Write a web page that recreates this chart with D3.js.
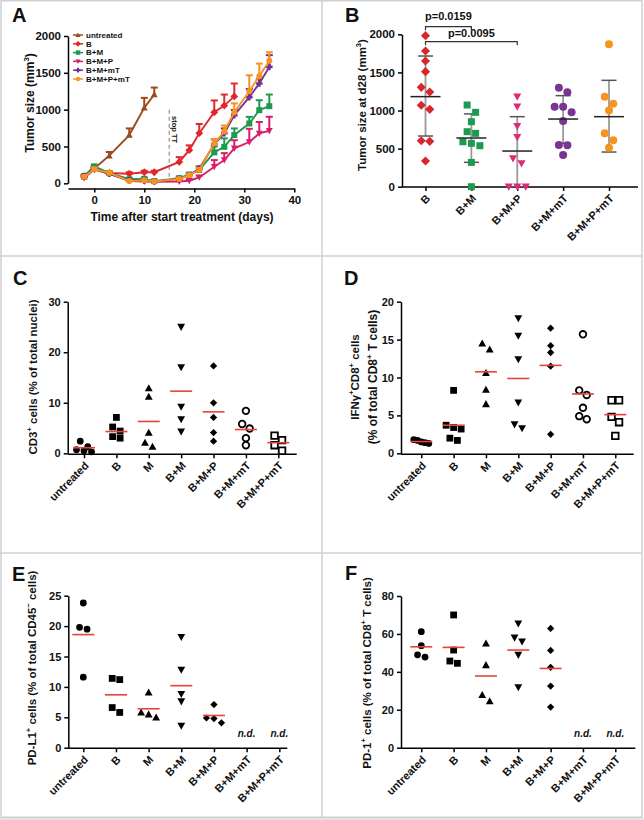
<!DOCTYPE html>
<html><head><meta charset="utf-8">
<script src="https://cdn.jsdelivr.net/npm/d3@7"></script>
<style>
body{margin:0;background:#fff}
svg{display:block}
text{font-family:"Liberation Sans",Arial,sans-serif;font-weight:bold;fill:#111;white-space:pre}
</style>
</head><body><script>
// ================= DATA =================
// Panel A: tumor growth (mean + SEM)
const growthDays = [-2,0,3,7,10,12,17,19,21,24,26,28,31,33,35];
const growthSeries = ["untreated","B","B+M","B+M+P","B+M+mT","B+M+P+mT"];
const untreatedMean = [90,200,375,655,1025,1205];
const untreatedSem  = [15,20,50,90,135,95];
const bMean   = [85,195,140,130,150,150,290,450,680,965,1055,1180];
const bSem    = [15,20,20,20,20,20,65,65,125,160,150,175];
const bmMean  = [100,230,140,55,60,30,70,120,180,420,495,655,812,993,1047];
const bmSem   = [15,20,20,15,15,10,15,20,30,80,115,90,90,135,158];
const bmpMean = [75,190,130,30,25,20,25,35,80,225,315,475,560,677,713];
const bmpSem  = [15,20,20,10,10,10,10,15,25,90,95,110,180,155,190];
const bmmtMean  = [100,195,130,40,40,25,60,110,200,530,680,925,1170,1355,1580];
const bmmtSem   = [15,20,20,10,10,10,15,20,30,66,65,70,110,60,160];
const bmpmtMean = [90,195,140,30,40,25,60,110,180,540,705,965,1250,1455,1665];
const bmpmtSem  = [15,20,20,10,10,10,15,20,30,60,80,120,217,170,115];
const stopDay = 15;

// Panel B: tumor size at d28
const tumorGroups = ["B","B+M","B+M+P","B+M+mT","B+M+P+mT"];
const tumorB      = [1982,1781,1650,1510,1304,1243,1068,1015,604,595,337];
const tumorBM     = [1072,976,853,722,700,590,569,538,319,0];
const tumorBMP    = [1180,1050,795,648,372,306,0,0,0];
const tumorBMmT   = [1300,1238,1050,1050,976,862,547,543,416];
const tumorBMPmT  = [1870,1180,1090,1000,700,610,510];
const tumorMean   = [1182,639,468,888,919];
const tumorSdLow  = [665,320,0,569,455];
const tumorSdHigh = [1715,955,919,1195,1396];
const tumorPvals  = ["p=0.0159","p=0.0095"];

// Panels C-F
const immuneGroups = ["untreated","B","M","B+M","B+M+P","B+M+mT","B+M+P+mT"];
const cd3Values = [[2.4,1.3,0.7,0.5,0.3],[7.1,5.2,4.4,3.3,3.0],[12.9,11.2,4.1,2.1,1.3],[25,17,9.2,6.7,4.3],[17.3,10,7.1,4.1,2.4],[8.4,5.8,4.9,3.0,1.6],[3.5,2.6,1.6,0.5]];
const cd3Means  = [1.1,4.3,6.3,12.3,8.2,4.7,2.1];
const ifnValues = [[1.8,1.7,1.5,1.4,1.3],[8.3,3.7,3.4,3.2,2.0,1.7],[14.5,13.7,10.6,8.4,6.5],[17.8,15.5,12.4,6.7,3.8,3.3],[16.5,14.2,13.3,11.5,2.5],[15.7,8.3,7.7,6.0,4.9,4.5],[7.0,7.0,4.8,4.1,2.3]];
const ifnMeans  = [1.55,3.7,10.75,9.87,11.6,7.83,5.1];
const pdl1Values = [[23.8,19.8,19.5,11.6],[11.4,11.2,6.6,5.8],[9.1,5.8,5.5,5.0],[18.2,12.8,8.8,7.6,3.6],[7.1,4.9,4.8,4.1],[],[]];
const pdl1Means  = [18.6,8.7,6.4,10.2,5.3,null,null];
const pd1Values = [[61.2,53.8,49.0,47.8],[70,51.5,45.7,44.5],[55,43.6,27.8,24.6],[65.4,58,55.9,48.9,31.8],[62.9,51.3,42.4,32.5,21.4],[],[]];
const pd1Means  = [53.2,52.9,37.8,51.5,41.8,null,null];

// ================= STYLE =================
const growthColors = ["#9b4a1e","#e0282c","#1b9a50","#d91e6b","#72319a","#f7941e"];
const growthShapes = ["up","diamond","square","down","cross","circle"];
const tumorColors = ["#d9262c","#1b9a50","#e0287b","#7a3592","#f7941d"];
const tumorShapes = ["diamond","square","down","circle","circle"];
const immuneShapes = ["circle","square","up","down","diamond","ocircle","osquare"];
const meanRed = "#e8413e";
const intFmt = d3.format("d");

// ================= HELPERS =================
function shapePath(type, r) {
  switch (type) {
    case "circle": case "ocircle":
      return `M${r},0A${r},${r} 0 1,1 ${-r},0A${r},${r} 0 1,1 ${r},0Z`;
    case "square": case "osquare":
      return `M${-r},${-r}H${r}V${r}H${-r}Z`;
    case "up": { const h = r*1.15; return `M0,${-h}L${h},${h*0.8}L${-h},${h*0.8}Z`; }
    case "down": { const h = r*1.15; return `M0,${h}L${h},${-h*0.8}L${-h},${-h*0.8}Z`; }
    case "diamond": { const d = r*1.3; return `M0,${-d}L${d},0L0,${d}L${-d},0Z`; }
    case "cross": { const a = r*0.45, b = r*1.1; return `M${-a},${-b}H${a}V${-a}H${b}V${a}H${a}V${b}H${-a}V${a}H${-b}V${-a}H${-a}Z`; }
  }
}
function richText(t, parts, size) {
  let shift = 0;
  parts.forEach(p => {
    const sup = typeof p === "object";
    const target = sup ? -size*0.4 : 0;
    const ts = t.append("tspan").text(sup ? p.sup : p);
    if (target !== shift) { ts.attr("dy", target - shift); shift = target; }
    if (sup) ts.attr("font-size", size*0.65);
  });
  return t;
}
function yTitle(g, x, yc, parts, size) {
  const t = g.append("text").attr("transform", `translate(${x},${yc}) rotate(-90)`)
    .attr("text-anchor","middle").attr("font-size", size);
  return richText(t, parts, size);
}
function styleAxis(sel, fs) {
  sel.select(".domain").attr("stroke","#000").attr("stroke-width",1.5);
  sel.selectAll(".tick line").attr("stroke","#000").attr("stroke-width",1.5);
  sel.selectAll(".tick text").attr("fill","#111").attr("font-size",fs)
     .attr("font-family","'Liberation Sans',Arial,sans-serif").attr("font-weight","bold");
}
function swarmOffsets(values, y, size) {
  const idx = values.map((v,i)=>i).sort((a,b)=>values[b]-values[a]);
  const off = new Array(values.length).fill(0);
  let i = 0;
  while (i < idx.length) {
    let j = i + 1;
    while (j < idx.length && Math.abs(y(values[idx[i]]) - y(values[idx[j]])) < size*0.9) j++;
    const n = j - i;
    const step = n > 1 ? Math.min(size, 2*size/(n-1)) : 0;
    for (let k = 0; k < n; k++) off[idx[i+k]] = (k - (n-1)/2) * step;
    i = j;
  }
  return off;
}
function catLabels(axisSel) {
  axisSel.selectAll(".tick text")
    .attr("text-anchor","end").attr("x",-5).attr("y",12).attr("dy",0)
    .attr("transform","rotate(-45)");
}

// ================= SVG =================
const svg = d3.select("body").append("svg").attr("width",644).attr("height",820);
svg.append("rect").attr("width",644).attr("height",820).attr("fill","#fff");
svg.append("rect").attr("x",0).attr("y",818).attr("width",644).attr("height",2).attr("fill","#e4e4e4");
const frame = svg.append("g").attr("fill","none").attr("stroke","#d0d0d0").attr("stroke-width",1.5);
frame.append("rect").attr("x",1).attr("y",0.75).attr("width",641).attr("height",816.5);
frame.append("line").attr("x1",322).attr("x2",322).attr("y1",0).attr("y2",817);
frame.append("line").attr("x1",0).attr("x2",642).attr("y1",256).attr("y2",256);
frame.append("line").attr("x1",0).attr("x2",642).attr("y1",553).attr("y2",553);

const letters = [["A",12,22],["B",345,22],["C",13,285],["D",344,285],["E",12,581],["F",345,580]];
svg.selectAll("text.letter").data(letters).join("text").attr("class","letter")
  .attr("x",d=>d[1]).attr("y",d=>d[2]).attr("font-size",20).text(d=>d[0]);

// ================= PANEL A =================
(function(){
  const g = svg.append("g");
  const x = d3.scaleLinear().domain([-5.25,40]).range([68,294.3]);
  const y = d3.scaleLinear().domain([0,2000]).range([183.3,36]);
  const ya = g.append("g").attr("transform","translate(68,0)")
    .call(d3.axisLeft(y).tickValues([0,500,1000,1500,2000]).tickFormat(intFmt).tickSize(4).tickSizeOuter(0).tickPadding(3));
  styleAxis(ya, 11.5);
  const xa = g.append("g").attr("transform","translate(0,188.5)")
    .call(d3.axisBottom(x).tickValues([0,10,20,30,40]).tickFormat(intFmt).tickSize(4).tickSizeOuter(0).tickPadding(3));
  styleAxis(xa, 11.5);
  yTitle(g, 34, 103, ["Tumor size (mm", {sup:"3"}, ")"], 12);
  g.append("text").attr("x",182).attr("y",221).attr("text-anchor","middle").attr("font-size",12)
    .text("Time after start treatment (days)");

  // stop TT
  g.append("line").attr("x1",x(stopDay)).attr("x2",x(stopDay)).attr("y1",y(1000)).attr("y2",y(45))
    .attr("stroke","#a8a8a8").attr("stroke-width",1.5).attr("stroke-dasharray","4,3");
  g.append("text").attr("transform",`translate(${x(stopDay)+2.5},${y(730)}) rotate(90)`)
    .attr("text-anchor","middle").attr("font-size",7.5).text("stop TT");

  const means = [untreatedMean,bMean,bmMean,bmpMean,bmmtMean,bmpmtMean];
  const sems  = [untreatedSem,bSem,bmSem,bmpSem,bmmtSem,bmpmtSem];
  const line = d3.line().x(d=>x(d.t)).y(d=>y(d.m));
  growthSeries.forEach((name, si) => {
    const pts = means[si].map((m,i)=>({t:growthDays[i], m, s:sems[si][i]}));
    const c = growthColors[si];
    const sg = g.append("g");
    sg.selectAll("line.eb").data(pts).join("line").attr("class","eb")
      .attr("x1",d=>x(d.t)).attr("x2",d=>x(d.t)).attr("y1",d=>y(d.m)).attr("y2",d=>y(d.m+d.s))
      .attr("stroke",c).attr("stroke-width",2);
    sg.selectAll("line.cap").data(pts).join("line").attr("class","cap")
      .attr("x1",d=>x(d.t)-3.5).attr("x2",d=>x(d.t)+3.5).attr("y1",d=>y(d.m+d.s)).attr("y2",d=>y(d.m+d.s))
      .attr("stroke",c).attr("stroke-width",2);
    sg.append("path").datum(pts).attr("d",line).attr("fill","none").attr("stroke",c).attr("stroke-width",1.9);
    sg.selectAll("path.mk").data(pts).join("path").attr("class","mk")
      .attr("d",shapePath(growthShapes[si],3))
      .attr("transform",d=>`translate(${x(d.t)},${y(d.m)})`).attr("fill",c);
  });
  // legend
  const lg = g.append("g");
  growthSeries.forEach((name, si) => {
    const ly = 35 + si*8.8;
    lg.append("line").attr("x1",73).attr("x2",83).attr("y1",ly).attr("y2",ly)
      .attr("stroke",growthColors[si]).attr("stroke-width",1.5);
    lg.append("path").attr("d",shapePath(growthShapes[si],2.2)).attr("transform",`translate(78,${ly})`)
      .attr("fill",growthColors[si]);
    lg.append("text").attr("x",86).attr("y",ly).attr("dy","0.35em").attr("font-size",8).text(name);
  });
})();

// ================= PANEL B =================
(function(){
  const g = svg.append("g");
  const x = d3.scalePoint().domain(tumorGroups).range([425.5,609]);
  const y = d3.scaleLinear().domain([0,2000]).range([186.7,34.3]);
  const ya = g.append("g").attr("transform","translate(402,0)")
    .call(d3.axisLeft(y).tickValues([0,500,1000,1500,2000]).tickFormat(intFmt).tickSize(4).tickSizeOuter(0).tickPadding(3));
  styleAxis(ya, 11.5);
  g.append("line").attr("x1",402).attr("x2",638).attr("y1",187).attr("y2",187).attr("stroke","#000").attr("stroke-width",1.5);
  const xa = g.append("g").attr("transform","translate(0,187)").call(d3.axisBottom(x).tickSize(4).tickSizeOuter(0));
  xa.select(".domain").remove();
  styleAxis(xa, 11);
  catLabels(xa);
  yTitle(g, 366, 105, ["Tumor size at d28 (mm", {sup:"3"}, ")"], 11.5);

  const groupsData = [tumorB,tumorBM,tumorBMP,tumorBMmT,tumorBMPmT];
  groupsData.forEach((vals, gi) => {
    const cx = x(tumorGroups[gi]);
    g.append("line").attr("x1",cx).attr("x2",cx).attr("y1",y(tumorSdLow[gi])).attr("y2",y(tumorSdHigh[gi]))
      .attr("stroke","#9a9a9a").attr("stroke-width",1.8);
    [tumorSdLow[gi], tumorSdHigh[gi]].forEach(v => {
      g.append("line").attr("x1",cx-7.5).attr("x2",cx+7.5).attr("y1",y(v)).attr("y2",y(v))
        .attr("stroke","#555").attr("stroke-width",1.5);
    });
    const offs = swarmOffsets(vals, y, 8.5);
    g.selectAll(null).data(vals).join("path")
      .attr("d", shapePath(tumorShapes[gi], tumorShapes[gi]==="circle"?4:3.5))
      .attr("transform",(v,i)=>`translate(${cx+offs[i]},${y(v)})`)
      .attr("fill",tumorColors[gi]);
    g.append("line").attr("x1",cx-15).attr("x2",cx+15).attr("y1",y(tumorMean[gi])).attr("y2",y(tumorMean[gi]))
      .attr("stroke","#222").attr("stroke-width",1.5);
  });
  const br = [[tumorGroups[0],tumorGroups[1],26.7,19.5],[tumorGroups[0],tumorGroups[2],41.7,36.5]];
  br.forEach((b, i) => {
    const x1 = x(b[0]), x2 = x(b[1]);
    g.append("path").attr("d",`M${x1},${b[2]+3.5}V${b[2]}H${x2}V${b[2]+3.5}`)
      .attr("fill","none").attr("stroke","#333").attr("stroke-width",1.2);
    g.append("text").attr("x",(x1+x2)/2).attr("y",b[3]).attr("text-anchor","middle").attr("font-size",11).text(tumorPvals[i]);
  });
})();

// ================= PANELS C-F =================
function dotPanel(o) {
  const g = svg.append("g");
  const x = d3.scalePoint().domain(immuneGroups).range([o.first, o.last]);
  const y = d3.scaleLinear().domain([0, o.max]).range([o.y0, o.yTop]);
  const ya = g.append("g").attr("transform",`translate(${o.axisX},0)`)
    .call(d3.axisLeft(y).tickValues(o.ticks).tickFormat(intFmt).tickSize(4).tickSizeOuter(0).tickPadding(3));
  styleAxis(ya, 11);
  g.append("line").attr("x1",o.axisX).attr("x2",o.axisEnd).attr("y1",o.xAxisY).attr("y2",o.xAxisY)
    .attr("stroke","#000").attr("stroke-width",1.5);
  const xa = g.append("g").attr("transform",`translate(0,${o.xAxisY})`).call(d3.axisBottom(x).tickSize(4).tickSizeOuter(0));
  xa.select(".domain").remove();
  styleAxis(xa, 11);
  catLabels(xa);
  o.titles.forEach(t => yTitle(g, t.x, o.titleY, t.parts, t.size));

  o.values.forEach((vals, gi) => {
    const cx = x(immuneGroups[gi]);
    const shp = immuneShapes[gi];
    const open = shp.startsWith("o");
    const r = shp === "diamond" ? 2.8 : 3.4;
    const offs = swarmOffsets(vals, y, 7.5);
    g.selectAll(null).data(vals).join("path")
      .attr("d", shapePath(shp, open ? 3.3 : r))
      .attr("transform",(v,i)=>`translate(${cx+offs[i]},${y(v)})`)
      .attr("fill", open ? "#fff" : "#000")
      .attr("stroke", open ? "#000" : "none").attr("stroke-width", 1.8);
    if (o.means[gi] != null) {
      g.append("line").attr("x1",cx-11).attr("x2",cx+11).attr("y1",y(o.means[gi])).attr("y2",y(o.means[gi]))
        .attr("stroke",meanRed).attr("stroke-width",1.6);
    } else {
      g.append("text").attr("x",cx).attr("y",o.ndY).attr("text-anchor","middle")
        .attr("font-size",10).attr("font-style","italic").text("n.d.");
    }
  });
}

dotPanel({values:cd3Values, means:cd3Means, max:30, ticks:[0,10,20,30],
  first:84, last:278.3, axisX:67.7, axisEnd:296.7, y0:453.3, yTop:301.7, xAxisY:454.3,
  titleY:377, titles:[{x:37, size:11.5, parts:["CD3",{sup:"+"}," cells (% of total nuclei)"]}]});

dotPanel({values:ifnValues, means:ifnMeans, max:20, ticks:[0,5,10,15,20],
  first:421.3, last:615.3, axisX:401, axisEnd:633.7, y0:453.3, yTop:301.7, xAxisY:454.3,
  titleY:377, titles:[{x:359, size:11.5, parts:["IFNγ",{sup:"+"},"CD8",{sup:"+"}," cells"]},
                      {x:377, size:12, parts:["(% of total CD8",{sup:"+"}," T cells)"]}]});

dotPanel({values:pdl1Values, means:pdl1Means, max:25, ticks:[0,5,10,15,20,25],
  first:83.3, last:279.3, axisX:68.3, axisEnd:287.3, y0:747.7, yTop:595.7, xAxisY:748.3, ndY:737,
  titleY:668, titles:[{x:36, size:11.5, parts:["PD-L1",{sup:"+"}," cells (% of total CD45",{sup:"−"}," cells)"]}]});

dotPanel({values:pd1Values, means:pd1Means, max:80, ticks:[0,20,40,60,80],
  first:421.3, last:615.3, axisX:401, axisEnd:635.3, y0:747.7, yTop:596, xAxisY:748.3, ndY:737,
  titleY:673, titles:[{x:371, size:11.5, parts:["PD-1",{sup:"+"}," cells (% of total CD8",{sup:"+"}," T cells)"]}]});
</script></body></html>
